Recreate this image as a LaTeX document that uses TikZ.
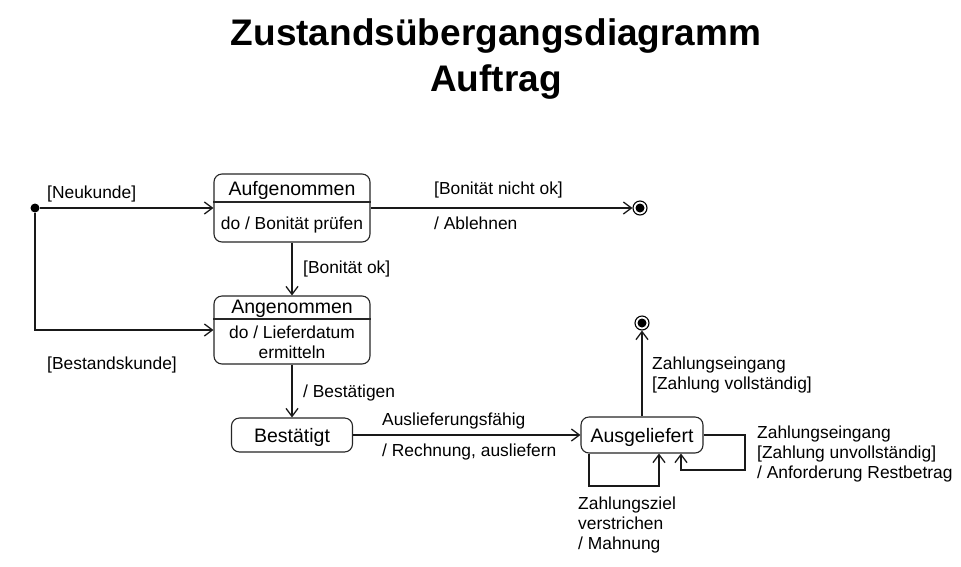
\documentclass[tikz,border=0pt]{standalone}
\usepackage{fontspec}
\setmainfont{Liberation Sans}
\usetikzlibrary{arrows.meta}
\begin{document}
\begin{tikzpicture}[x=1pt,y=-1pt,
  statebox/.style={draw=black!85,line width=1.1pt,rounded corners=8pt,inner sep=0pt,fill=white},
  divline/.style={draw=black!85,line width=1.1pt},
  sname/.style={font=\fontsize{19.5}{22}\selectfont,inner sep=0pt,anchor=base},
  stext/.style={font=\fontsize{17.4}{21}\selectfont,inner sep=0pt,anchor=base},
  lbl/.style={font=\fontsize{17.4}{20}\selectfont,inner sep=0pt,anchor=base west,align=left},
  trans/.style={draw=black!90,line width=1.3pt,-{Straight Barb[length=8pt,width=12pt]}},
  startdot/.style={circle,fill=black,inner sep=0pt,minimum size=9pt},
  endring/.style={circle,draw=black,line width=1.1pt,fill=white,inner sep=0pt,minimum size=14pt},
  enddot/.style={circle,fill=black,inner sep=0pt,minimum size=9pt},
  titlestyle/.style={font=\fontsize{37}{46}\selectfont\bfseries,inner sep=0pt,anchor=base}]
\useasboundingbox (0,0) rectangle (961,566);

% title
\node[titlestyle] (t1) at (496,45) {Zustandsübergangsdiagramm};
\node[titlestyle] (t2) at (496,91) {Auftrag};

% states
\node[statebox,minimum width=156pt,minimum height=68pt] (auf) at (292,208) {};
\draw[divline] (auf.west |- 0,202) -- (auf.east |- 0,202);
\node[sname] (aufT) at (292,195) {Aufgenommen};
\node[stext] (aufD) at (292,229) {do / Bonität prüfen};

\node[statebox,minimum width=156pt,minimum height=68pt] (ang) at (292,330) {};
\draw[divline] (ang.west |- 0,319) -- (ang.east |- 0,319);
\node[sname] (angT) at (292,313) {Angenommen};
\node[stext] (angD1) at (292,338) {do / Lieferdatum};
\node[stext] (angD2) at (292,358) {ermitteln};

\node[statebox,minimum width=121pt,minimum height=34pt] (best) at (292,435) {};
\node[sname] (bestT) at (292,442) {Bestätigt};

\node[statebox,minimum width=122pt,minimum height=36pt] (aus) at (642,435) {};
\node[sname] (ausT) at (642,442) {Ausgeliefert};

% pseudo states
\node[startdot] (init) at (35,208) {};
\node[endring] (end1) at (640,208) {};
\node[enddot] (end1d) at (640,208) {};
\node[endring] (end2) at (642,323) {};
\node[enddot] (end2d) at (642,323) {};

% transitions
\draw[trans] (init) -- (auf.west);
\draw[trans] (init) |- (ang.west);
\draw[trans] (auf.south) -- (ang.north);
\draw[trans] (auf.east) -- (end1);
\draw[trans] (ang.south) -- (best.north);
\draw[trans] (best.east) -- (aus.west);
\draw[trans] (aus.north) -- (end2);
\coordinate (lr1) at (745,470);
\draw[trans] (aus.east) -| (lr1) -| (aus.south -| 681,0);
\coordinate (lb1) at (589,486);
\draw[trans] (aus.south -| 589,0) -- (lb1) -| (aus.south -| 659,0);

% labels
\node[lbl] (lNeu) at (47,198) {[Neukunde]};
\node[lbl] (lBest) at (47,369) {[Bestandskunde]};
\node[lbl] (lOk) at (303,273) {[Bonität ok]};
\node[lbl] (lNok) at (434,194) {[Bonität nicht ok]};
\node[lbl] (lAbl) at (434,229) {/ Ablehnen};
\node[lbl] (lBst) at (303,397) {/ Bestätigen};
\node[lbl] (lAusl) at (382,425) {Auslieferungsfähig};
\node[lbl] (lRech) at (382,456) {/ Rechnung, ausliefern};
\node[lbl] (lVoll1) at (652,369) {Zahlungseingang};
\node[lbl] (lVoll2) at (652,389) {[Zahlung vollständig]};
\node[lbl] (lUnv1) at (757,438) {Zahlungseingang};
\node[lbl] (lUnv2) at (757,458) {[Zahlung unvollständig]};
\node[lbl] (lUnv3) at (757,478) {/ Anforderung Restbetrag};
\node[lbl] (lMah1) at (578,509) {Zahlungsziel};
\node[lbl] (lMah2) at (578,529) {verstrichen};
\node[lbl] (lMah3) at (578,549) {/ Mahnung};
\end{tikzpicture}
\end{document}
